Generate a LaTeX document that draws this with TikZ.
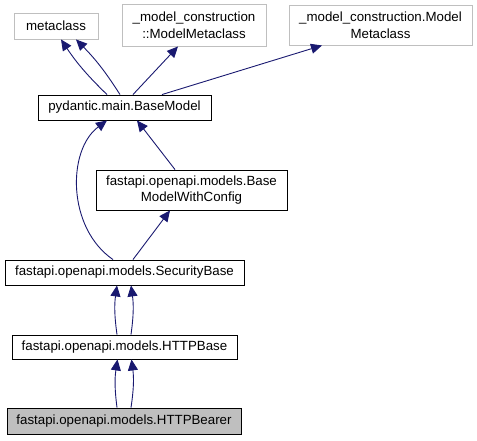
\documentclass[tikz,border=0pt]{standalone}
\usepackage{fontspec}
\setmainfont{Liberation Sans}
\usetikzlibrary{arrows.meta,calc}
\definecolor{edgeblue}{HTML}{191970}
\definecolor{lightgrey}{HTML}{BFBFBF}
\tikzset{
  box/.style={draw=black, fill=white, line width=0.9pt, rectangle, inner sep=0pt, align=center,
    font=\fontsize{13.3}{16.5}\selectfont},
  extbox/.style={box, draw=lightgrey},
  curbox/.style={box, fill=lightgrey},
  inh/.style={draw=edgeblue, line width=0.9pt, -{Triangle[length=11pt,width=10pt]}},
}
\begin{document}
\begin{tikzpicture}[x=1pt,y=-1pt]
\useasboundingbox (0,0) rectangle (477,440);
\node[extbox, minimum width=84pt, minimum height=26pt] (meta) at (56,26) {metaclass};
\node[extbox, minimum width=144pt, minimum height=42pt] (mc1) at (194,25) {\_model\_construction\\::ModelMetaclass};
\node[extbox, minimum width=183pt, minimum height=40pt] (mc2) at (380.5,25) {\_model\_construction.Model\\Metaclass};
\node[box, minimum width=173pt, minimum height=25pt] (bm) at (124.5,107.5) {pydantic.main.BaseModel};
\node[box, minimum width=191pt, minimum height=40pt] (bmwc) at (191.5,190) {fastapi.openapi.models.Base\\ModelWithConfig};
\node[box, minimum width=239pt, minimum height=25pt] (sb) at (124.5,272.5) {fastapi.openapi.models.SecurityBase};
\node[box, minimum width=225pt, minimum height=24pt] (hb) at (124.5,347) {fastapi.openapi.models.HTTPBase};
\node[curbox, minimum width=234pt, minimum height=26pt] (hbr) at (124,421) {fastapi.openapi.models.HTTPBearer};

% BaseModel -> metaclass (two)
\draw[inh] ($(bm.north)+(-17.5,0)$) to[bend left=6] ($(meta.south)+(5,0)$);
\draw[inh] ($(bm.north)+(-4.5,0)$) to[bend right=6] ($(meta.south)+(20,0)$);
% BaseModel -> ModelMetaclass
\draw[inh] ($(bm.north)+(8.5,0)$) -- ($(mc1.south)+(-16,0)$);
\draw[inh] ($(bm.north)+(37.5,0)$) -- ($(mc2.south)+(-58.5,0)$);
% SecurityBase -> BaseModel (curved)
\draw[inh] ($(sb.north)+(-11.5,0)$) .. controls (67,228) and (67,150) .. ($(bm.south)+(-17.5,0)$);
% BMWC -> BaseModel
\draw[inh] ($(bmwc.north)+(-16.5,0)$) -- ($(bm.south)+(12.5,0)$);
% SecurityBase -> BMWC
\draw[inh] ($(sb.north)+(8.5,0)$) -- ($(bmwc.south)+(-21.5,0)$);
% HTTPBase -> SecurityBase (two)
\draw[inh] ($(hb.north)+(-7.5,0)$) to[bend left=8] ($(sb.south)+(-7.5,0)$);
\draw[inh] ($(hb.north)+(6.5,0)$) to[bend right=8] ($(sb.south)+(6.5,0)$);
% HTTPBearer -> HTTPBase (two)
\draw[inh] ($(hbr.north)+(-7,0)$) to[bend left=8] ($(hb.south)+(-7,0)$);
\draw[inh] ($(hbr.north)+(7,0)$) to[bend right=8] ($(hb.south)+(7,0)$);
\end{tikzpicture}
\end{document}
